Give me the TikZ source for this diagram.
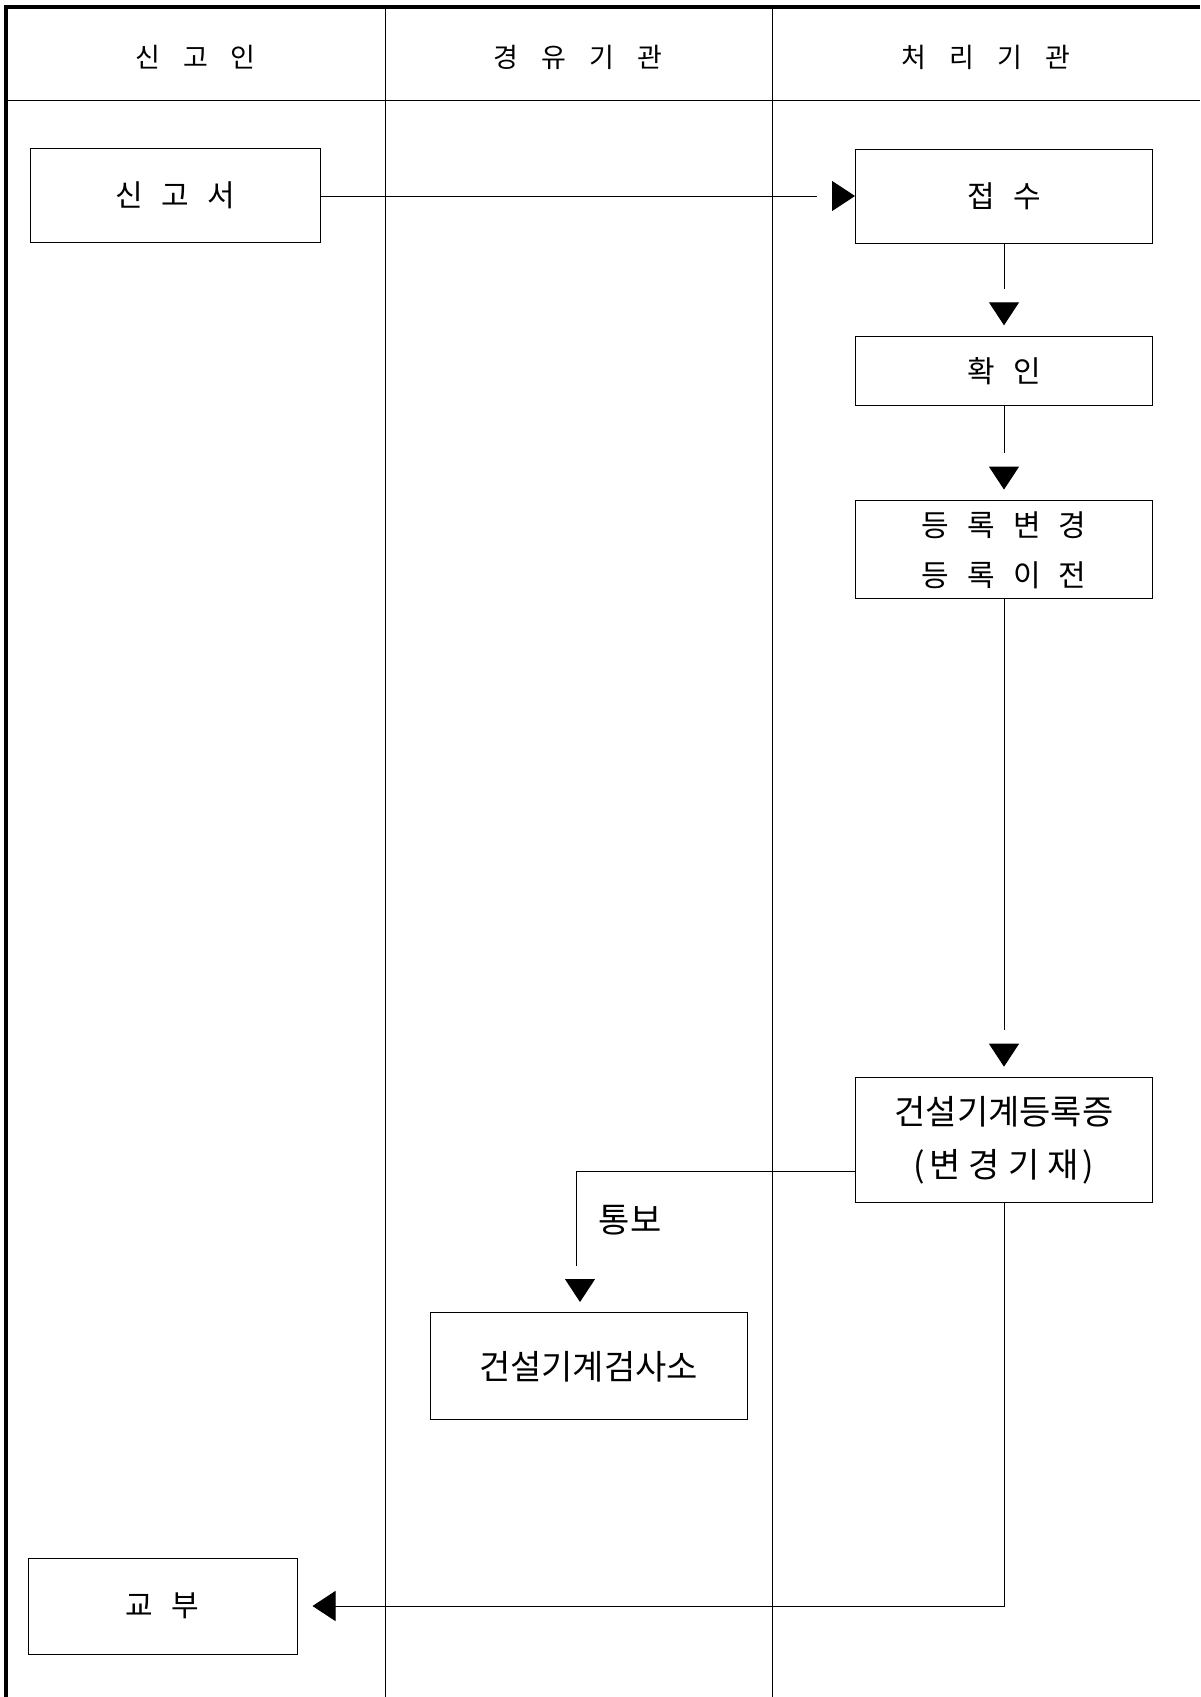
\documentclass[tikz,border=0pt]{standalone}
\usepackage{fontspec}
\setmainfont{Noto Sans CJK KR}
\usetikzlibrary{arrows.meta}
\newcommand\gapA{\hspace{18pt}}
\newcommand\gapB{\hspace{8pt}}
\newcommand\gapH{\hspace{23pt}}
\begin{document}
\begin{tikzpicture}[x=1pt,y=-1pt,
  box/.style={draw,line width=1pt,inner sep=0pt,font=\fontsize{30}{50}\selectfont,align=center},
  bigtext/.style={font=\fontsize{34}{53}\selectfont},
  hdr/.style={font=\fontsize{27}{30}\selectfont,inner sep=0pt},
  lbl/.style={font=\fontsize{34}{34}\selectfont,inner sep=0pt},
  conn/.style={line width=1pt},
  tipd/.style={line width=1pt,-{Triangle[length=23pt,width=30pt,sep=#1]}},
  lane/.style={line width=0.9pt},
  frame/.style={line width=4pt}]
\useasboundingbox (0,0) rectangle (1200,1697);
% swimlane frame
\draw[frame] (4,7.3) -- (1200,7.3);
\draw[frame] (6,5.3) -- (6,1697);
\draw[lane] (8,100.7) -- (1200,100.7);
\draw[lane] (385,9) -- (385,1697);
\draw[lane] (772,9) -- (772,1697);
% headers
\node[hdr] (h1) at (195.5,57) {신\gapH 고\gapH 인};
\node[hdr] (h2) at (578,57) {경\gapH 유\gapH 기\gapH 관};
\node[hdr] (h3) at (986,57) {처\gapH 리\gapH 기\gapH 관};
% boxes
\node[box,minimum width=290pt,minimum height=94pt] (sgs) at (175.3,195.5) {신\gapA 고\gapA 서};
\node[box,minimum width=297pt,minimum height=94pt] (jeopsu) at (1004,196) {접\gapA 수};
\node[box,minimum width=297pt,minimum height=69pt] (hwagin) at (1004,371.3) {확\gapA 인};
\node[box,minimum width=297pt,minimum height=98pt] (deungrok) at (1004,549.8) {등\gapA 록\gapA 변\gapA 경\\등\gapA 록\gapA 이\gapA 전};
\node[box,bigtext,minimum width=297pt,minimum height=125pt] (jeung) at (1004,1140.2) {건설기계등록증\\(\hspace{4pt}변\gapB 경\gapB 기\gapB 재\hspace{4pt})};
\node[box,bigtext,minimum width=317pt,minimum height=107pt] (geomsa) at (588.5,1366.3) {건설기계검사소};
\node[box,minimum width=269pt,minimum height=96pt] (gyobu) at (162.5,1606) {교\gapA 부};
% connectors
\coordinate (c1) at (817,196);
\coordinate (c2) at (832,196);
\draw[conn] (sgs.east |- c1) -- (c1);
\draw[tipd=0pt] (c2) -- (jeopsu.west);
\coordinate (c3) at (1004,289);
\coordinate (c4) at (1004,303);
\draw[conn] (jeopsu.south) -- (c3);
\draw[tipd=11pt] (c4) -- (hwagin.north);
\coordinate (c5) at (1004,453);
\coordinate (c6) at (1004,467);
\draw[conn] (hwagin.south) -- (c5);
\draw[tipd=10.7pt] (c6) -- (deungrok.north);
\coordinate (c7) at (1004,1030);
\coordinate (c8) at (1004,1044);
\draw[conn] (deungrok.south) -- (c7);
\draw[tipd=10.5pt] (c8) -- (jeung.north);
\coordinate (c9) at (576,1171.7);
\coordinate (c10) at (576,1265.7);
\coordinate (c11) at (580,1279.5);
\draw[conn] (jeung.west |- c9) -- (c9) -- (c10);
\draw[tipd=10.3pt] (c11) -- (c11 |- geomsa.north);
\node[lbl] (tongbo) at (630,1220) {통보};
\draw[tipd=15pt] (jeung.south) |- (gyobu.east);
\end{tikzpicture}
\end{document}
